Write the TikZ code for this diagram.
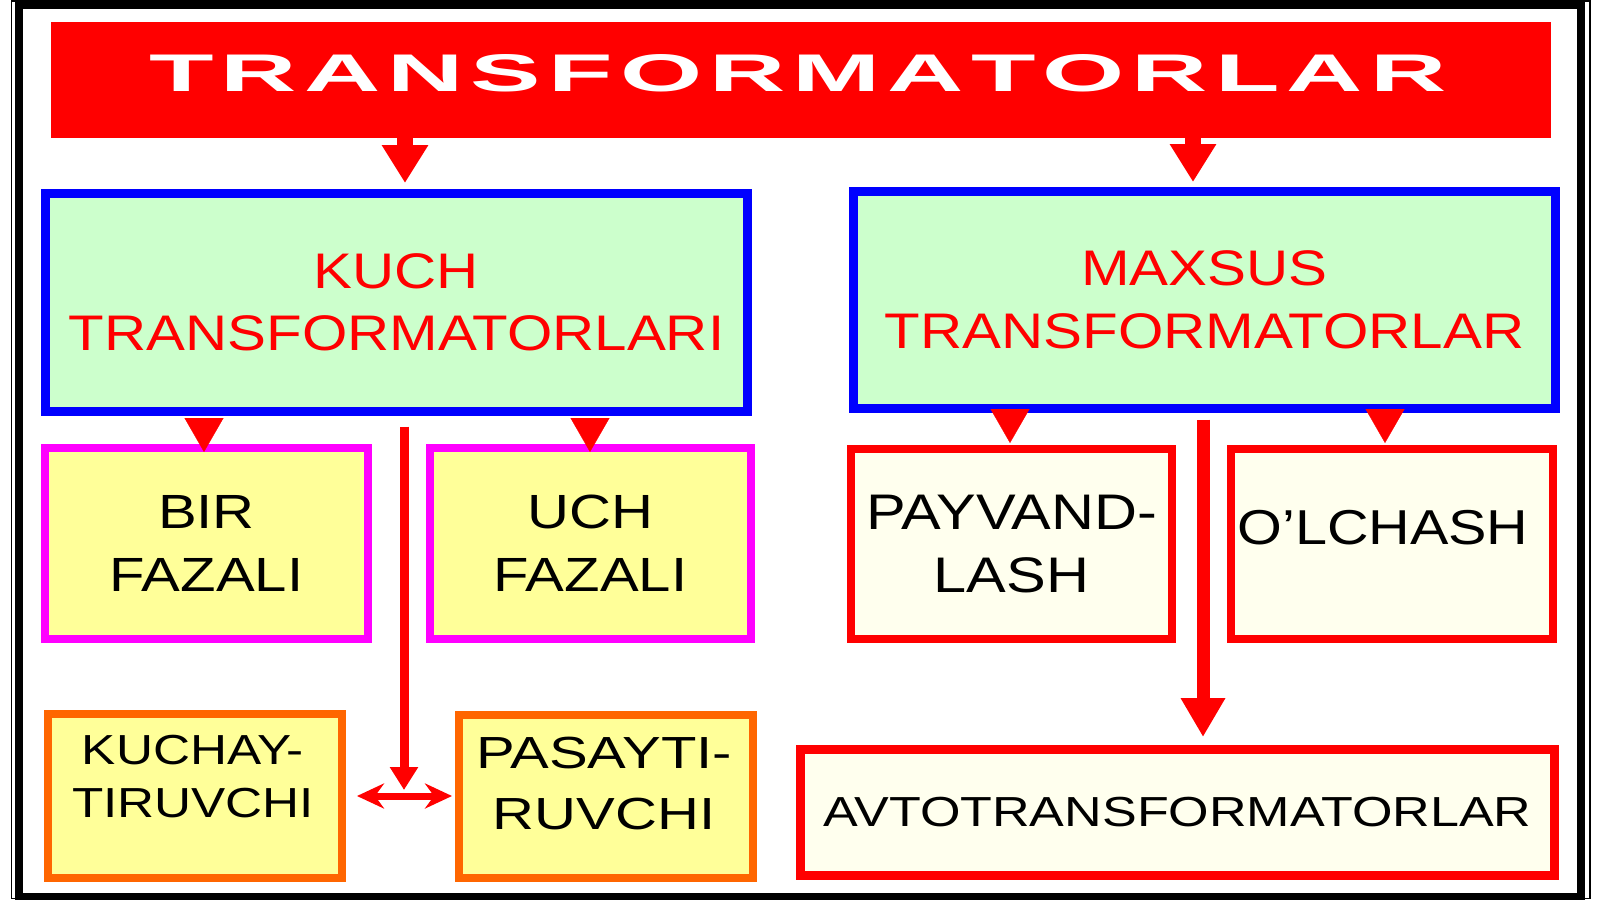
\documentclass[tikz,border=0pt]{standalone}
\usepackage{fontspec}
\setmainfont{Liberation Sans}
\usepackage{graphicx}
\usetikzlibrary{arrows.meta,calc}
\definecolor{kgreen}{HTML}{CCFFCC}
\definecolor{kyellow}{HTML}{FFFF99}
\definecolor{kivory}{HTML}{FFFFEE}
\definecolor{korange}{HTML}{FF6600}
\definecolor{kred}{HTML}{FF0000}
\definecolor{kblue}{HTML}{0000FF}
\definecolor{kmag}{HTML}{FF00FF}
\newcommand\sx[2]{\scalebox{#1}[1]{#2}}
\begin{document}
\begin{tikzpicture}[x=1pt,y=-1pt,
  box/.style={rectangle,inner sep=0pt,align=center},
  bluebox/.style={box,draw=kblue,line width=9pt,fill=kgreen,text=kred,font=\fontsize{50}{62}\selectfont},
  magbox/.style={box,draw=kmag,line width=8pt,fill=kyellow,text=black,font=\fontsize{48}{63}\selectfont},
  redbox/.style={box,draw=kred,line width=8pt,fill=kivory,text=black,font=\fontsize{50}{63}\selectfont},
  orbox/.style={box,draw=korange,line width=8pt,fill=kyellow,text=black},
  headA/.style={draw=kred,line width=16pt,-{Triangle[length=38pt 0 0,width=44pt 0 0]}},
  headB/.style={draw=kred,line width=0.3pt,-{Triangle[length=34pt 0 0,width=39pt 0 0]}},
  headC/.style={draw=kred,line width=9pt,-{Triangle[length=23pt 0 0,width=27pt 0 0]}},
  headD/.style={draw=kred,line width=13pt,-{Triangle[length=39pt 0 0,width=42pt 0 0]}},
  dbl/.style={draw=kred,line width=7pt,{Stealth[length=27pt 0 0,width=25pt 0 0,inset=9pt 0]}-{Stealth[length=27pt 0 0,width=25pt 0 0,inset=9pt 0]}}
]
\fill[white] (0,0) rectangle (1600,899);
\useasboundingbox (0,0) rectangle (1600,899);
% frame
\draw[black,line width=1.5pt] (11.5,0.8) rectangle (1590,898.5);
\draw[black,line width=7.5pt] (19,5.5) rectangle (1581,897);
% title
\node[box,fill=kred,minimum width=1500pt,minimum height=116pt,text=white,font=\fontsize{52}{60}\selectfont\bfseries] (title) at (801,80)
 {\raisebox{6.5pt}[\height][\depth]{\hspace*{-6pt}\resizebox{1297pt}{37pt}{T\kern3.5pt R\kern3.5pt A\kern3.5pt N\kern3.5pt S\kern3.5pt F\kern3.5pt O\kern3.5pt R\kern3.5pt M\kern3.5pt A\kern3.5pt T\kern3.5pt O\kern3.5pt R\kern3.5pt L\kern3.5pt A\kern3.5pt R}}};
% level 1
\node[bluebox,minimum width=702pt,minimum height=218pt] (kuch) at (396.5,302.5)
 {\sx{1.166}{KUCH}\\\sx{1.166}{TRANSFORMATORLARI}};
\node[bluebox,minimum width=702pt,minimum height=217pt,font=\fontsize{50}{63}\selectfont] (maxsus) at (1204.5,300)
 {\sx{1.167}{MAXSUS}\\\sx{1.167}{TRANSFORMATORLAR}};
% level 2
\node[magbox,minimum width=323pt,minimum height=191pt] (bir) at (206.5,543.5)
 {\sx{1.21}{BIR}\\\sx{1.21}{FAZALI}};
\node[magbox,minimum width=321pt,minimum height=191pt] (uch) at (590.5,543.5)
 {\sx{1.21}{UCH}\\\sx{1.21}{FAZALI}};
\node[redbox,minimum width=321pt,minimum height=190pt] (payvand) at (1011.5,544)
 {\sx{1.19}{PAYVAND-}\\\sx{1.19}{LASH}};
\node[redbox,minimum width=322pt,minimum height=190pt,
  label={[yshift=16.5pt,xshift=-9pt,text=black,font=\fontsize{49}{60}\selectfont]center:\sx{1.175}{O’LCHASH}}] (olchash) at (1392,544) {};
% level 3
\node[orbox,minimum width=294pt,minimum height=164pt,
  label={[yshift=19.5pt,xshift=-2pt,align=center,text=black,font=\fontsize{42}{53}\selectfont]center:\sx{1.22}{KUCHAY-}\\\sx{1.22}{TIRUVCHI}}] (kuchay) at (195,796) {};
\node[orbox,minimum width=294pt,minimum height=163pt,
  label={[yshift=13pt,xshift=-2pt,align=center,text=black,font=\fontsize{45}{61}\selectfont]center:\sx{1.29}{PASAYTI-}\\\sx{1.29}{RUVCHI}}] (pasayti) at (606,796.5) {};
\node[redbox,line width=9pt,minimum width=754pt,minimum height=126pt,font=\fontsize{42}{50}\selectfont] (avto) at (1177.5,812.5)
 {\sx{1.24}{AVTOTRANSFORMATORLAR}};
% connectors
\coordinate (t1) at (405,183);
\coordinate (t2) at (1193,182);
\coordinate (t3) at (204,452);
\coordinate (t4) at (590,452);
\coordinate (t5) at (1010,443);
\coordinate (t6) at (1385,443);
\coordinate (t7) at (404,790);
\coordinate (l8) at (357,796);
\coordinate (r8) at (452,796);
\coordinate (t9) at (1203,737);
\draw[headA] (title.south -| t1) -- (t1);
\draw[headA] (title.south -| t2) -- (t2);
\draw[headB] ($(kuch.south -| t3)+(0,4.5)$) -- (t3);
\draw[headB] ($(kuch.south -| t4)+(0,4.5)$) -- (t4);
\draw[headB] ($(maxsus.south -| t5)+(0,4.5)$) -- (t5);
\draw[headB] ($(maxsus.south -| t6)+(0,4.5)$) -- (t6);
\draw[headC] ($(kuch.south -| t7)+(0,10.5)$) -- (t7);
\draw[dbl] (l8) -- (r8);
\draw[headD] ($(maxsus.south -| t9)+(0,6.5)$) -- (t9);
\end{tikzpicture}
\end{document}
